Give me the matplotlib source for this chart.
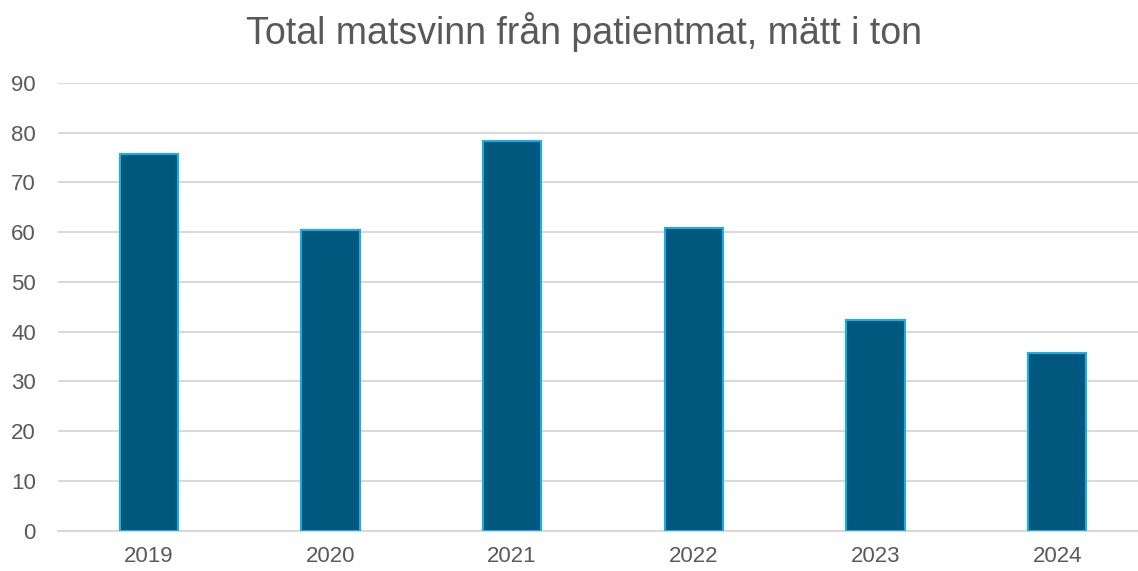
import matplotlib.pyplot as plt
import numpy as np

YEARS = ["2019", "2020", "2021", "2022", "2023", "2024"]
TON = [75.7, 60.4, 78.3, 60.8, 42.3, 35.8]
Y_TICKS = [0, 10, 20, 30, 40, 50, 60, 70, 80, 90]

BAR_COLOR = "#00587F"
EDGE_COLOR = "#1AAEE8"
TEXT_COLOR = "#595959"
GRID_COLOR = "#D9D9D9"


def main() -> None:
    plt.rcParams["font.family"] = ["Liberation Sans", "DejaVu Sans"]
    fig = plt.figure(figsize=(11.38, 5.71), dpi=100)
    ax = fig.add_axes([58 / 1138, 0.0706, 1090 / 1138, 0.7844])

    x = np.arange(len(YEARS))
    ax.bar(x, TON, width=0.32, color=BAR_COLOR, edgecolor=EDGE_COLOR,
           linewidth=1.5, zorder=3)

    ax.set_xlim(-0.5, len(YEARS) - 0.5)
    ax.set_ylim(0, 90)
    ax.set_yticks(Y_TICKS)
    ax.set_xticks(x)
    ax.set_xticklabels(YEARS)
    ax.tick_params(axis="both", length=0, labelsize=16, labelcolor=TEXT_COLOR)
    ax.tick_params(axis="y", pad=16)
    ax.tick_params(axis="x", pad=11)
    ax.grid(axis="y", color=GRID_COLOR, linewidth=1.5, zorder=0)
    for spine in ["top", "right", "left"]:
        ax.spines[spine].set_visible(False)
    ax.spines["bottom"].set_color(GRID_COLOR)
    ax.spines["bottom"].set_linewidth(1.5)

    fig.text(584 / 1138, 1 - 32 / 571, "Total matsvinn från patientmat, mätt i ton",
             ha="center", va="center", fontsize=27, color=TEXT_COLOR)

    fig.savefig("out.png", dpi=100)
    plt.close(fig)


if __name__ == "__main__":
    main()
